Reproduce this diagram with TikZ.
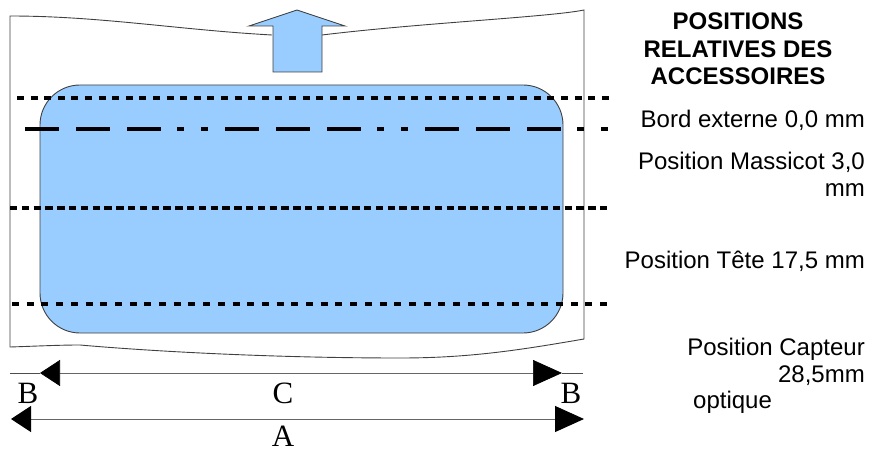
\documentclass[tikz,border=0pt]{standalone}
\usepackage{fontspec}
\setmainfont{Liberation Serif}
\setsansfont{Liberation Sans}
\usetikzlibrary{
    arrows.meta % Triangle tips on the width arrows.
}

\definecolor{paperblue}{HTML}{99CCFF}

\tikzset{
    outline/.style = {draw = black!75, line width = 0.9pt},
    dottedcut/.style = {line width = 3.4pt, dash pattern = on 7pt off 6.6pt},
    middlecut/.style = {line width = 3.4pt, dash pattern = on 7.4pt off 4.4pt},
    sensorcut/.style = {line width = 3.4pt, dash pattern = on 7pt off 7.7pt},
    headcut/.style = {line width = 3.4pt, dash pattern = on 34pt off 17pt on 34pt off 17pt on 34pt off 16pt on 7pt off 17pt on 7pt off 17pt},
    widtharrow/.style = {draw = black!60, line width = 1pt, {Triangle[length = 20pt, width = 26pt, color = black]}-{Triangle[length = 29pt, width = 26pt, color = black]}},
    letter/.style = {font = \fontsize{31}{31}\selectfont, inner sep = 0pt, text = black},
    legend/.style = {font = \sffamily\fontsize{24}{27}\selectfont, inner sep = 0pt, align = right, anchor = north east}
}

\begin{document}
\begin{tikzpicture}[x = 1pt, y = -1pt]

        % Fixes the page to the size of the picture.
        \useasboundingbox (0, 0) rectangle (870, 449);

        % The paper sheet, torn at the top and the bottom.
        \draw[outline] (272, 35) .. controls (180, 30) and (100, 16) .. (10, 16)
              -- (10, 347) .. controls (40, 346) and (60, 345) .. (80, 345)
              .. controls (160, 352) and (280, 358) .. (400, 358)
              .. controls (470, 358) and (520, 350) .. (584, 339)
              -- (584, 10) .. controls (550, 17) and (420, 23) .. (322, 35);

        % The arrow for the feed direction.
        \draw[outline, fill = paperblue] (297, 10) -- (345, 26) -- (322, 26) -- (322, 72)
              -- (273, 72) -- (273, 26) -- (249, 26) -- cycle;

        % The label, with its round corners.
        \draw[outline, fill = paperblue, rounded corners = 40pt] (40, 85) rectangle (563, 333);

        % Ends of the cut lines.
        \coordinate (edgeL) at (17, 98);
        \coordinate (edgeR) at (610, 98);
        \coordinate (cutL) at (25, 129);
        \coordinate (cutR) at (610, 129);
        \coordinate (headL) at (10, 208);
        \coordinate (headR) at (610, 208);
        \coordinate (sensorL) at (12, 304);
        \coordinate (sensorR) at (610, 304);

        % Connect them.
        \draw[dottedcut] (edgeL) -- (edgeR);
        \draw[headcut] (cutL) -- (cutR);
        \draw[middlecut] (headL) -- (headR);
        \draw[sensorcut] (sensorL) -- (sensorR);

        % The widths below the sheet.
        \coordinate (stubL) at (10, 373);
        \coordinate (innerL) at (40, 373);
        \coordinate (innerR) at (562, 373);
        \coordinate (stubR) at (583, 373);
        \coordinate (outerL) at (11, 419);
        \coordinate (outerR) at (584, 419);

        \draw[line width = 0.7pt, black!70] (stubL) -- (innerL);
        \draw[line width = 0.7pt, black!70] (innerR) -- (stubR);
        \draw[widtharrow, line width = 0.7pt] (innerL) -- (innerR);
        \draw[widtharrow] (outerL) -- (outerR);

        % Letters for the widths.
        \node[letter] (bL) at (28, 393) {B};
        \node[letter] (cW) at (283, 393) {C};
        \node[letter] (bR) at (571, 393) {B};
        \node[letter] (aW) at (283, 436.5) {A};

        % The legend on the right.
        \node[legend, anchor = north, align = center, font = \sffamily\bfseries\fontsize{24}{27.5}\selectfont] (title) at (738, 13) {POSITIONS\\RELATIVES DES\\ACCESSOIRES};
        \node[legend] (edgeText) at (865, 110) {Bord externe 0,0 mm};
        \node[legend] (cutText) at (865, 152) {Position Massicot 3,0\\mm};
        \node[legend] (headText) at (865, 251) {Position Tête 17,5 mm};
        \node[legend] (sensorText) at (865, 338) {Position Capteur\\28,5mm};
        \node[legend, anchor = north west] (opticText) at (693, 391) {optique};
    \end{tikzpicture}
\end{document}
